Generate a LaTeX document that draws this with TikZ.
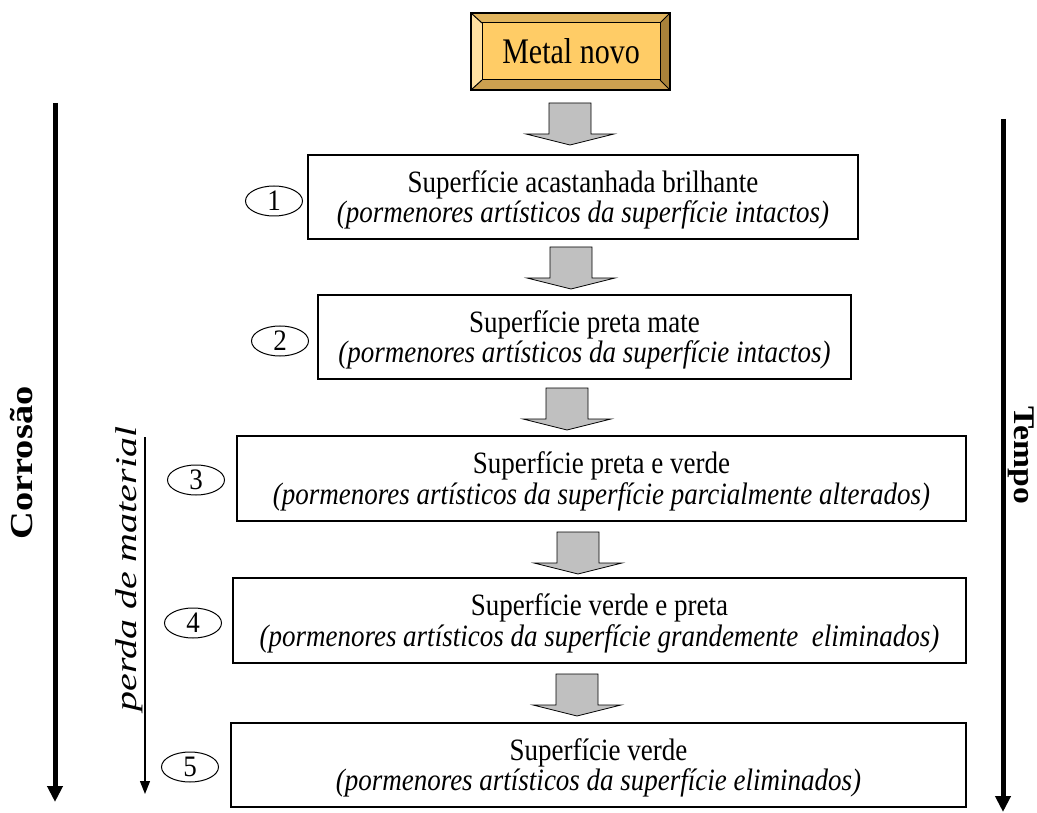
\documentclass[tikz,border=0pt]{standalone}
\usepackage{fontspec}
\setmainfont{Liberation Serif}
\usepackage{graphicx}
\usetikzlibrary{arrows.meta,shapes.geometric}
\definecolor{face}{HTML}{FFCC66}
\definecolor{bvtop}{HTML}{E0B45E}
\definecolor{bvleft}{HTML}{FFE0A0}
\definecolor{bvright}{HTML}{A8823A}
\definecolor{bvbot}{HTML}{CCA050}
\definecolor{arrgray}{HTML}{C0C0C0}
\newcommand\stxt[2]{\scalebox{1}[1.15]{\begin{tabular}{@{}c@{}}#1\\\textit{#2}\end{tabular}}}
\begin{document}
\begin{tikzpicture}[x=1pt,y=-1pt,
  stage/.style={draw, line width=1.2pt, inner sep=0pt, font=\fontsize{27}{26}\selectfont},
  stagetext/.style={inner sep=0pt, font=\fontsize{27}{26}\selectfont},
  num/.style={draw, ellipse, line width=1pt, minimum width=57pt, minimum height=30pt, inner sep=0pt, font=\fontsize{27}{27}\selectfont},
  barrowfill/.style={fill=arrgray, draw=black, line width=0.8pt},
  bigarrow/.style={line width=5pt, -{Triangle[length=16pt,width=15pt]}},
  thinarrow/.style={line width=1.3pt, -{Triangle[length=13pt,width=10pt]}},
  barrow/.pic={\draw[barrowfill] (-21,0) -- (21,0) -- (21,31) -- (44,31) -- (0,42) -- (-44,31) -- (-21,31) -- cycle;}
  ]
\useasboundingbox (0,0) rectangle (1037,813);
% bevelled top box
\fill[bvtop] (471,13) -- (670,13) -- (660,23) -- (482,23) -- cycle;
\fill[bvleft] (471,13) -- (482,23) -- (482,80) -- (471,90) -- cycle;
\fill[bvright] (670,13) -- (670,90) -- (660,80) -- (660,23) -- cycle;
\fill[bvbot] (471,90) -- (670,90) -- (660,80) -- (482,80) -- cycle;
\draw[line width=1pt] (471,13) -- (482,23) (670,13) -- (660,23) (670,90) -- (660,80) (471,90) -- (482,80);
\draw[line width=1.2pt] (471,13) rectangle (670,90);
\node[draw, line width=1pt, fill=face, minimum width=178pt, minimum height=57pt, inner sep=0pt,
  font=\fontsize{30}{30}\selectfont] (m0) at (571,51.5) {\scalebox{1}[1.2]{Metal novo}};
% stages (box, then its text slightly below centre)
\node[stage, minimum width=550pt, minimum height=84pt] (s1) at (583,197) {};
\node[stagetext] (t1) at ([yshift=-4pt]s1.center)
  {\stxt{Superfície acastanhada brilhante}{(pormenores artísticos da superfície intactos)}};
\node[stage, minimum width=533pt, minimum height=84pt] (s2) at (584.5,337) {};
\node[stagetext] (t2) at ([yshift=-4pt]s2.center)
  {\stxt{Superfície preta mate}{(pormenores artísticos da superfície intactos)}};
\node[stage, minimum width=729pt, minimum height=85pt] (s3) at (601.5,478.5) {};
\node[stagetext] (t3) at ([yshift=-4pt]s3.center)
  {\stxt{Superfície preta e verde}{(pormenores artísticos da superfície parcialmente alterados)}};
\node[stage, minimum width=733pt, minimum height=85pt] (s4) at (599.5,620.5) {};
\node[stagetext] (t4) at ([yshift=-4pt]s4.center)
  {\stxt{Superfície verde e preta}{(pormenores artísticos da superfície grandemente\ \ eliminados)}};
\node[stage, minimum width=735pt, minimum height=84pt] (s5) at (598.5,765) {};
\node[stagetext] (t5) at ([yshift=-4pt]s5.center)
  {\stxt{Superfície verde}{(pormenores artísticos da superfície eliminados)}};
% block arrows
\pic at (570,103) {barrow};
\pic at (571,247) {barrow};
\pic at (567,388) {barrow};
\pic at (578,532) {barrow};
\pic at (577,674) {barrow};
% numbers
\node[num] (n1) at (274,201) {\scalebox{1}[1.1]{1}};
\node[num] (n2) at (280,341) {\scalebox{1}[1.1]{2}};
\node[num] (n3) at (196,480) {\scalebox{1}[1.1]{3}};
\node[num] (n4) at (193,623) {\scalebox{1}[1.1]{4}};
\node[num] (n5) at (190,767) {\scalebox{1}[1.1]{5}};
% side arrows
\coordinate (cl1) at (55,103); \coordinate (cl2) at (55,802);
\draw[bigarrow] (cl1) -- (cl2);
\coordinate (cr1) at (1003,119); \coordinate (cr2) at (1003,812);
\draw[bigarrow] (cr1) -- (cr2);
\coordinate (pm1) at (145,437); \coordinate (pm2) at (145,794);
\draw[thinarrow] (pm1) -- (pm2);
% labels
\node[rotate=90, font=\bfseries\fontsize{32}{32}\selectfont] (corr) at (22,463) {\scalebox{1.2}[1]{Corrosão}};
\node[rotate=-90, font=\bfseries\fontsize{30}{30}\selectfont] (tempo) at (1021,455) {\scalebox{1.12}[1]{Tempo}};
\node[rotate=90, font=\itshape\fontsize{30}{30}\selectfont] (perda) at (129,569) {\scalebox{1.33}[1]{perda de material}};
\end{tikzpicture}
\end{document}
